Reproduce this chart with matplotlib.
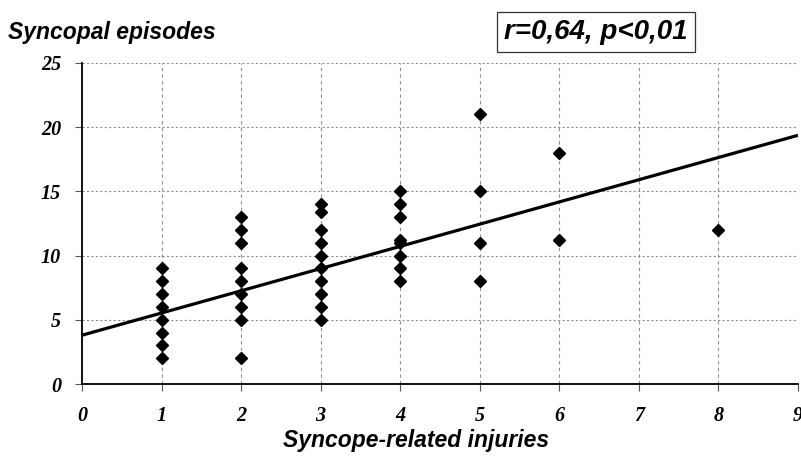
import matplotlib.pyplot as plt

# data
injuries = [1, 1, 1, 1, 1, 1, 1, 1,
            2, 2, 2, 2, 2, 2, 2, 2, 2,
            3, 3, 3, 3, 3, 3, 3, 3, 3, 3,
            4, 4, 4, 4, 4, 4, 4, 4,
            5, 5, 5, 5,
            6, 6,
            8]
episodes = [2, 3, 4, 5, 6, 7, 8, 9,
            2, 5, 6, 7, 8, 9, 11, 12, 13,
            5, 6, 7, 8, 9, 10, 11, 12, 13.4, 14,
            8, 9, 10, 11, 11.2, 13, 14, 15,
            8, 11, 15, 21,
            11.2, 18,
            12]
fit_intercept = 3.8
fit_slope = 1.73
x_ticks = [0, 1, 2, 3, 4, 5, 6, 7, 8, 9]
y_ticks = [0, 5, 10, 15, 20, 25]

fig = plt.figure(figsize=(8.01, 4.62), dpi=100)
ax = fig.add_axes([82 / 801, 1 - 384 / 462, (798 - 82) / 801, (384 - 63) / 462])

# grid
for xv in x_ticks[1:]:
    ax.axvline(xv, color='#909090', lw=0.8, ls=(0, (3, 3)), zorder=1)
for yv in y_ticks[1:]:
    ax.axhline(yv, color='#909090', lw=0.8, ls=(0, (2, 2)), zorder=1)

ax.plot(injuries, episodes, 'D', color='black', ms=6.5, zorder=3)

fx = [0, 9]
fy = [fit_intercept + fit_slope * v for v in fx]
ax.plot(fx, fy, color='black', lw=2.3, zorder=4, solid_capstyle='butt')

ax.set_xlim(0, 9)
ax.set_ylim(0, 25)
ax.set_xticks(x_ticks)
ax.set_yticks(y_ticks)
ax.spines['top'].set_visible(False)
ax.spines['right'].set_visible(False)
ax.spines['left'].set_linewidth(1.3)
ax.spines['bottom'].set_linewidth(1.3)
ax.tick_params(axis='both', length=5, width=0.8, color='#555555', direction='out')
ax.tick_params(axis='x', pad=10.5)
ax.tick_params(axis='y', pad=10)
for lab in ax.get_xticklabels() + ax.get_yticklabels():
    lab.set_fontfamily('Liberation Serif')
    lab.set_fontstyle('italic')
    lab.set_fontweight('bold')
    lab.set_fontsize(14.5)

fig.text(8 / 801, 1 - 33 / 462, 'Syncopal episodes', fontfamily='Liberation Sans',
         fontstyle='italic', fontweight='bold', fontsize=16.5, va='center', ha='left')
fig.text(416 / 801, 1 - 440 / 462, 'Syncope-related injuries', fontfamily='Liberation Sans',
         fontstyle='italic', fontweight='bold', fontsize=16.5, va='center', ha='center')
fig.text(596 / 801, 1 - 32 / 462, 'r=0,64, p<0,01', fontfamily='Liberation Sans',
         fontstyle='italic', fontweight='bold', fontsize=20, va='center', ha='center',
         bbox=dict(boxstyle='square,pad=0.25', facecolor='white', edgecolor='#333333', lw=0.9))

fig.savefig('out.png', dpi=100)
